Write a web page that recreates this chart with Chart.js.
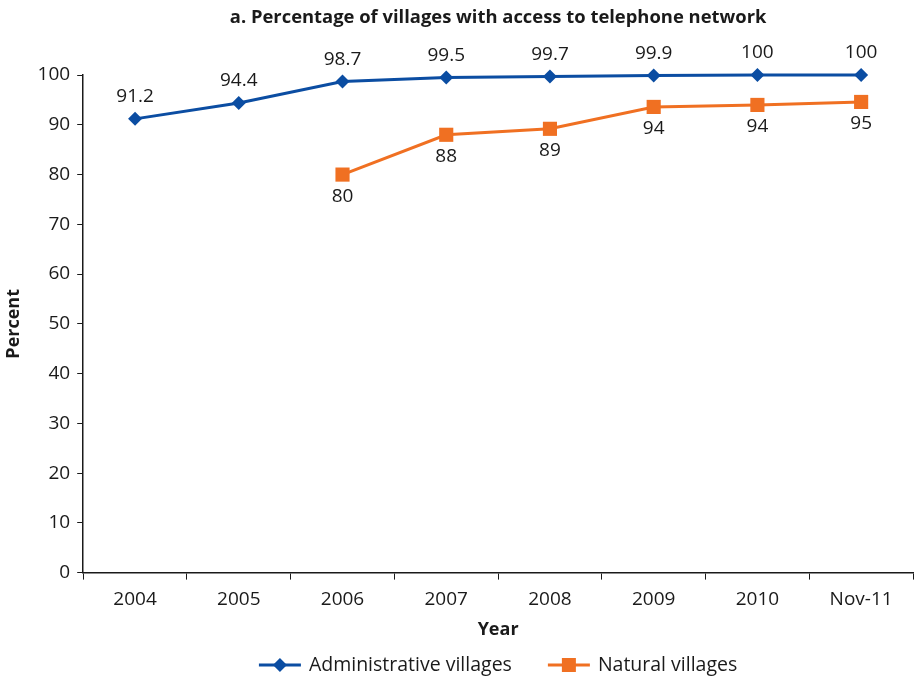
<!DOCTYPE html>
<html>
<head>
<meta charset="utf-8">
<script src="https://cdn.jsdelivr.net/npm/chart.js@4.4.1/dist/chart.umd.min.js"></script>
<style>
  html, body { margin: 0; padding: 0; background: #fff; }
  #wrap { width: 916px; height: 682px; }
</style>
</head>
<body>
<div id="wrap"><canvas id="line_chart" width="916" height="682"></canvas></div>
<script>
var years = ["2004", "2005", "2006", "2007", "2008", "2009", "2010", "Nov-11"];
var adminVillages = [91.2, 94.4, 98.7, 99.5, 99.7, 99.9, 100, 100];
var naturalVillages = [null, null, 80, 88, 89.2, 93.6, 94, 94.6];

var blue = '#0B4DA2';
var orange = '#F07022';
var ink = '#1a1a1a';
var fontFamily = '"Open Sans", "Noto Sans", sans-serif';

// value labels: above the blue line, below the orange one
var valueLabels = {
  id: 'valueLabels',
  afterDatasetsDraw: function(chart) {
    var ctx = chart.ctx;
    ctx.save();
    ctx.font = '19px ' + fontFamily;
    ctx.fillStyle = ink;
    ctx.textAlign = 'center';
    ctx.textBaseline = 'middle';
    chart.data.datasets.forEach(function(ds, i) {
      var meta = chart.getDatasetMeta(i);
      meta.data.forEach(function(pt, j) {
        var v = ds.data[j];
        if (v === null) return;
        var txt = i === 0 ? String(v) : String(Math.round(v));
        var dy = i === 0 ? -22 : 22;
        ctx.fillText(txt, pt.x, pt.y + dy);
      });
    });
    ctx.restore();
  }
};

// legend row under the axis: line + marker swatch, then the series name
var lineLegend = {
  id: 'lineLegend',
  afterDraw: function(chart) {
    var ctx = chart.ctx;
    var area = chart.chartArea;
    var sw = 42, gapText = 8, gapItem = 36;
    ctx.save();
    ctx.font = '19.5px ' + fontFamily;
    var items = chart.data.datasets.map(function(ds) {
      return { ds: ds, w: ctx.measureText(ds.label).width };
    });
    var total = 0;
    items.forEach(function(it, i) { total += sw + gapText + it.w + (i ? gapItem : 0); });
    var x = (area.left + area.right) / 2 - total / 2;
    var y = 665;
    items.forEach(function(it, i) {
      var c = it.ds.borderColor;
      ctx.strokeStyle = c;
      ctx.fillStyle = c;
      ctx.lineWidth = 3;
      ctx.beginPath(); ctx.moveTo(x, y); ctx.lineTo(x + sw, y); ctx.stroke();
      var cx = x + sw / 2;
      if (i === 0) {
        ctx.beginPath();
        ctx.moveTo(cx, y - 7); ctx.lineTo(cx + 7, y); ctx.lineTo(cx, y + 7); ctx.lineTo(cx - 7, y);
        ctx.closePath(); ctx.fill();
      } else {
        ctx.fillRect(cx - 7, y - 7, 14, 14);
      }
      ctx.fillStyle = ink;
      ctx.textAlign = 'left';
      ctx.textBaseline = 'middle';
      ctx.fillText(it.ds.label, x + sw + gapText, y);
      x += sw + gapText + it.w + gapItem;
    });
    ctx.restore();
  }
};

var ctx = document.getElementById("line_chart").getContext("2d");
new Chart(ctx, {
  type: 'line',
  data: {
    labels: years,
    datasets: [
      {
        label: 'Administrative villages',
        data: adminVillages,
        borderColor: blue,
        backgroundColor: blue,
        borderWidth: 3,
        pointStyle: 'rectRot',
        pointRadius: 7,
        pointBorderWidth: 0,
        clip: false
      },
      {
        label: 'Natural villages',
        data: naturalVillages,
        borderColor: orange,
        backgroundColor: orange,
        borderWidth: 3,
        pointStyle: 'rect',
        pointRadius: 10,
        pointBorderWidth: 0,
        clip: false
      }
    ]
  },
  options: {
    responsive: false,
    animation: false,
    layout: { autoPadding: false, padding: { left: 3, right: 3, top: 0, bottom: 33 } },
    plugins: {
      title: {
        display: true,
        fullSize: false,
        text: 'a. Percentage of villages with access to telephone network',
        color: ink,
        font: { family: fontFamily, size: 18.4, weight: 'bold' },
        padding: { top: 7, bottom: 46 }
      },
      legend: { display: false },
      tooltip: { enabled: false }
    },
    scales: {
      x: {
        offset: true,
        grid: { offset: true, drawOnChartArea: false, drawTicks: true, tickLength: 7, color: ink },
        border: { color: ink, width: 1.5 },
        ticks: { color: ink, font: { family: fontFamily, size: 19 }, padding: 9 },
        title: { display: true, text: 'Year', color: ink, font: { family: fontFamily, size: 18, weight: 'bold' }, padding: { top: -1, bottom: 8 } }
      },
      y: {
        min: 0,
        max: 100,
        ticks: { stepSize: 10, color: ink, font: { family: fontFamily, size: 19 }, padding: 7 },
        grid: { drawOnChartArea: false, drawTicks: true, tickLength: 6, color: ink },
        border: { color: ink, width: 1.5 },
        title: { display: true, text: 'Percent', color: ink, font: { family: fontFamily, size: 18, weight: 'bold' }, padding: { top: 0, bottom: 6 } }
      }
    }
  },
  plugins: [valueLabels, lineLegend]
});
</script>
</body>
</html>
